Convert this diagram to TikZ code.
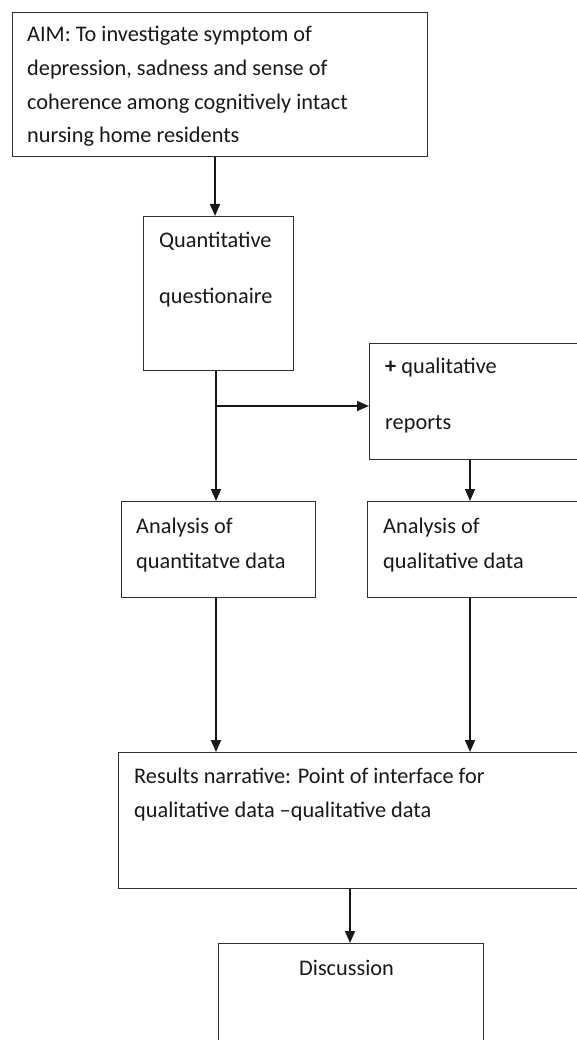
\documentclass[tikz,border=0pt]{standalone}
\usepackage{fontspec}
\setmainfont{Carlito}
\usetikzlibrary{arrows.meta,calc}
\definecolor{ink}{HTML}{1A1718}
\tikzset{
  box/.style={draw=ink!90, line width=1.2pt, rectangle, inner sep=0pt, anchor=north west},
  txt/.style={anchor=base west, inner sep=0pt, text=ink, font=\fontsize{22.3}{27}\selectfont},
  arr/.style={draw=ink, line width=1.8pt, -{Triangle[length=12pt,width=10pt]}},
  ln/.style={draw=ink, line width=1.8pt}
}
\begin{document}
\begin{tikzpicture}[x=1pt,y=-1pt]
\useasboundingbox (0,0) rectangle (577,1040);
\clip (0,0) rectangle (577,1040);
% boxes
\node[box, minimum width=415pt, minimum height=144pt] (aim) at (12,12) {};
\node[box, minimum width=150pt, minimum height=154pt] (quant) at (143,216) {};
\node[box, minimum width=260pt, minimum height=116pt] (qual) at (369,343) {};
\node[box, minimum width=194pt, minimum height=96pt] (anq) at (121,501) {};
\node[box, minimum width=260pt, minimum height=96pt] (anl) at (367,501) {};
\node[box, minimum width=500pt, minimum height=136pt] (res) at (118,752) {};
\node[box, minimum width=265pt, minimum height=140pt] (disc) at (218,943) {};
% texts
\node[txt] (t1) at (27,42) {AIM: To investigate symptom of};
\node[txt] (t2) at (27,76) {depression, sadness and sense of};
\node[txt] (t3) at (27,110) {coherence among cognitively intact};
\node[txt] (t4) at (27,143) {nursing home residents};
\node[txt] (t5) at (159,248) {Quantitative};
\node[txt] (t6) at (159,303) {questionaire};
\node[txt] (t7) at (385,373) {\textbf{+} qualitative};
\node[txt] (t8) at (385,429) {reports};
\node[txt] (t9) at (136,533) {Analysis of};
\node[txt] (t10) at (136,568) {quantitatve data};
\node[txt] (t11) at (383,533) {Analysis of};
\node[txt] (t12) at (383,568) {qualitative data};
\node[txt] (t13) at (134,783) {Results narrative: Point of interface for};
\node[txt] (t14) at (134,817) {qualitative data –qualitative data};
\node[txt] (t15) at (299,975) {Discussion};
% connector columns
\coordinate (c1) at (215,0);
\coordinate (c2) at (216,0);
\coordinate (c3) at (470,0);
\coordinate (c4) at (350,0);
\coordinate (br) at (216,406);
% connectors
\draw[arr] (aim.south -| c1) -- (quant.north -| c1);
\draw[arr] (quant.south -| c2) -- (anq.north -| c2);
\draw[arr] (br) -- (qual.west |- br);
\draw[arr] (qual.south -| c3) -- (anl.north -| c3);
\draw[arr] (anq.south -| c2) -- (res.north -| c2);
\draw[arr] (anl.south -| c3) -- (res.north -| c3);
\draw[arr] (res.south -| c4) -- (disc.north -| c4);
\end{tikzpicture}
\end{document}
